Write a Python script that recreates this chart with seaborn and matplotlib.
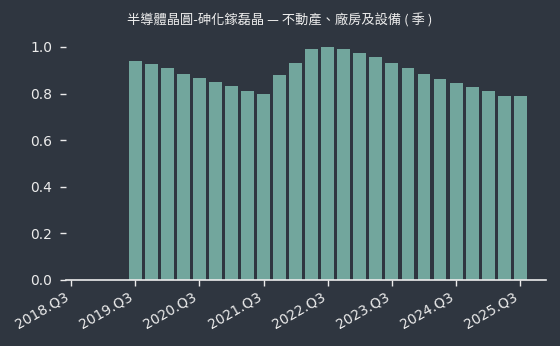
import matplotlib
matplotlib.use("Agg")
import matplotlib.pyplot as plt
import seaborn as sns
import numpy as np

quarters = ["2019.Q3","2019.Q4","2020.Q1","2020.Q2","2020.Q3","2020.Q4","2021.Q1","2021.Q2",
            "2021.Q3","2021.Q4","2022.Q1","2022.Q2","2022.Q3","2022.Q4","2023.Q1","2023.Q2",
            "2023.Q3","2023.Q4","2024.Q1","2024.Q2","2024.Q3","2024.Q4","2025.Q1","2025.Q2","2025.Q3"]
values = [0.940, 0.927, 0.910, 0.884, 0.867, 0.850, 0.833, 0.811, 0.798, 0.880, 0.931,
          0.991, 1.000, 0.991, 0.974, 0.957, 0.931, 0.910, 0.884, 0.863, 0.845, 0.828,
          0.811, 0.790, 0.790]
tick_labels = ["2018.Q3","2019.Q3","2020.Q3","2021.Q3","2022.Q3","2023.Q3","2024.Q3","2025.Q3"]
title = "半導體晶圓-砷化鎵磊晶 — 不動產、廠房及設備 ( 季 )"

def qindex(q):
    y, qq = q.split(".Q")
    return (int(y) - 2018) * 4 + int(qq) - 3

bg = "#2f3640"
bar_color = "#72a69d"
fg = "#ececec"

sns.set_theme(style="dark")
plt.rcParams['font.family'] = ['DejaVu Sans']

fig = plt.figure(figsize=(5.6, 3.46), dpi=100, facecolor=bg)
ax = fig.add_axes([0.118, 0.191, 0.857, 0.707])
ax.set_facecolor(bg)

pos = [qindex(q) for q in quarters]
sns.barplot(x=pos, y=values, native_scale=True, width=0.8, color=bar_color,
            saturation=1, ax=ax, linewidth=0)

ax.set_xlim(-0.3, 29.6)
ax.set_ylim(0, 1.05)
ax.set_xticks([qindex(t) for t in tick_labels])
ax.set_xticklabels(tick_labels, rotation=30, ha="right", color=fg, fontsize=10)
ax.set_yticks([0.0, 0.2, 0.4, 0.6, 0.8, 1.0])
ax.set_yticklabels(["0.0", "0.2", "0.4", "0.6", "0.8", "1.0"], color=fg, fontsize=10)
ax.tick_params(axis="y", left=True, length=4, color=fg, width=1, pad=6)
ax.tick_params(axis="x", bottom=True, length=4, color=fg, width=1, pad=3)
for s in ["top", "right", "left"]:
    ax.spines[s].set_visible(False)
ax.spines["bottom"].set_color(fg)
ax.spines["bottom"].set_linewidth(1.2)
ax.grid(False)
ax.set_xlabel("")
ax.set_ylabel("")

fig.text(0.5, 0.94, title, ha="center", va="center", color=fg, fontsize=9.5,
         family=['Noto Sans CJK TC', 'DejaVu Sans'])

fig.savefig("out.png", dpi=100, facecolor=bg)
